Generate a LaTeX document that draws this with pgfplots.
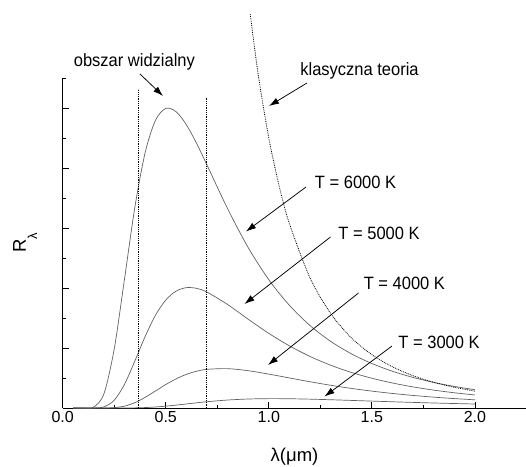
\documentclass[border=0pt]{standalone}
\usepackage{fontspec}
\setmainfont{Liberation Sans}
\usepackage{pgfplots}
\pgfplotsset{compat=1.18}
\usetikzlibrary{arrows.meta}

\begin{document}
\begin{tikzpicture}
\useasboundingbox (0,0) rectangle (526pt,466pt);
\begin{axis}[
    at={(62.7pt,58pt)}, anchor=origin,
    x=206.1pt, y=60pt,
    xmin=0, xmax=2.25, ymin=0, ymax=5.5,
    axis lines*=left,
    axis line style={black, line width=0.9pt},
    clip=false,
    tick align=inside,
    major tick length=6pt, minor tick length=3.5pt,
    tick style={black, line width=0.8pt},
    xtick={0,0.5,1,1.5,2},
    minor xtick={0.25,0.75,1.25,1.75},
    ytick={1,2,3,4,5},
    minor ytick={0.5,1.5,2.5,3.5,4.5,5.5},
    yticklabels={},
    /pgf/number format/fixed,
    /pgf/number format/fixed zerofill,
    /pgf/number format/precision=1,
    /pgf/number format/assume math mode=true,
    tick label style={font=\fontsize{16}{19}\selectfont},
    xlabel={λ(μm)},
    ylabel={R\raisebox{-0.6em}{\fontsize{13}{13}\selectfont λ}},
    label style={font=\fontsize{18.5}{22}\selectfont},
    xlabel style={at={(axis description cs:0.5,-0.147)}, anchor=center},
    ylabel style={at={(axis description cs:-0.081,0.5)}, anchor=center},
    curve/.style={black!62, line width=0.7pt, smooth},
]

% T = 6000 K
\addplot[curve] coordinates {
(0.05,0) (0.10,0) (0.15,0.0144) (0.20,0.2363) (0.25,0.9839) (0.30,2.153)
(0.35,3.344) (0.40,4.256) (0.45,4.794) (0.50,4.993) (0.55,4.939) (0.60,4.721)
(0.65,4.408) (0.70,4.050) (0.80,3.323) (0.90,2.674) (1.00,2.138) (1.10,1.711)
(1.20,1.3745) (1.30,1.111) (1.40,0.9044) (1.50,0.7415) (1.60,0.6124)
(1.70,0.5094) (1.80,0.4265) (1.90,0.3596) (2.00,0.3050)};

% T = 5000 K
\addplot[curve] coordinates {
(0.05,0) (0.10,0) (0.15,0.0005) (0.20,0.0186) (0.25,0.1288) (0.30,0.3954)
(0.35,0.7820) (0.40,1.1924) (0.45,1.5452) (0.50,1.799) (0.55,1.948) (0.60,2.006)
(0.65,1.994) (0.70,1.932) (0.80,1.7247) (0.90,1.4797) (1.00,1.2437) (1.10,1.0355)
(1.20,0.8593) (1.30,0.7134) (1.40,0.5938) (1.50,0.4963) (1.60,0.4166)
(1.70,0.3514) (1.80,0.2980) (1.90,0.2540) (2.00,0.2175)};

% T = 4000 K
\addplot[curve] coordinates {
(0.05,0) (0.10,0) (0.15,0) (0.20,0.0004) (0.25,0.0061) (0.30,0.0311)
(0.35,0.0885) (0.40,0.1772) (0.45,0.2836) (0.50,0.3908) (0.55,0.4856) (0.60,0.5604)
(0.65,0.6131) (0.70,0.6445) (0.80,0.6558) (0.90,0.6217) (1.00,0.5651) (1.10,0.5010)
(1.20,0.4376) (1.30,0.3790) (1.40,0.3269) (1.50,0.2816) (1.60,0.2426)
(1.70,0.2093) (1.80,0.1810) (1.90,0.1570) (2.00,0.1365)};

% T = 3000 K
\addplot[curve] coordinates {
(0.05,0) (0.10,0) (0.20,0) (0.30,0.0005) (0.35,0.0023) (0.40,0.0074)
(0.45,0.0168) (0.50,0.0308) (0.55,0.0481) (0.60,0.0673) (0.65,0.0866) (0.70,0.1045)
(0.80,0.1330) (0.90,0.1498) (1.00,0.1560) (1.10,0.1544) (1.20,0.1475) (1.30,0.1378)
(1.40,0.1266) (1.50,0.1151) (1.60,0.1038) (1.70,0.0933) (1.80,0.0836)
(1.90,0.0747) (2.00,0.0668)};

% klasyczna teoria (Rayleigh-Jeans)
\addplot[black, line width=0.8pt, densely dotted, smooth] coordinates {
(0.91,6.562) (0.95,5.525) (1.00,4.500) (1.05,3.702) (1.10,3.074) (1.20,2.170)
(1.30,1.5756) (1.40,1.1714) (1.50,0.8889) (1.60,0.6866) (1.70,0.5388)
(1.80,0.4287) (1.90,0.3453) (2.00,0.28125)};

% granice obszaru widzialnego
\addplot[black, line width=0.8pt, densely dotted] coordinates {(0.367,0) (0.367,5.31)};
\addplot[black, line width=0.8pt, densely dotted] coordinates {(0.695,0) (0.695,5.17)};

% opisy
\tikzset{lbl/.style={font=\fontsize{16.5}{20}\selectfont, inner sep=0pt},
         arr/.style={-{Latex[length=10pt,width=6.5pt]}, black, line width=0.75pt}}
\node[lbl] at (axis cs:0.348,5.767) {\scalebox{1}[1.08]{obszar widzialny}};
\node[lbl] at (axis cs:1.440,5.617) {\scalebox{1}[1.08]{klasyczna teoria}};
\node[lbl] at (axis cs:1.421,3.767) {\scalebox{1}[1.08]{T = 6000 K}};
\node[lbl] at (axis cs:1.535,2.917) {\scalebox{1}[1.08]{T = 5000 K}};
\node[lbl] at (axis cs:1.658,2.083) {\scalebox{1}[1.08]{T = 4000 K}};
\node[lbl] at (axis cs:1.826,1.100) {\scalebox{1}[1.08]{T = 3000 K}};

\draw[arr] (axis cs:0.375,5.567) -- (axis cs:0.4867,5.200);
\draw[arr] (axis cs:1.1853,5.4167) -- (axis cs:1.0009,5.0333);
\draw[arr] (axis cs:1.1805,3.6833) -- (axis cs:0.8894,2.9417);
\draw[arr] (axis cs:1.2994,2.850) -- (axis cs:0.8821,1.7333);
\draw[arr] (axis cs:1.4352,1.9167) -- (axis cs:0.9961,0.7167);
\draw[arr] (axis cs:1.5977,1.0333) -- (axis cs:1.2703,0.1917);

\end{axis}
\end{tikzpicture}
\end{document}
